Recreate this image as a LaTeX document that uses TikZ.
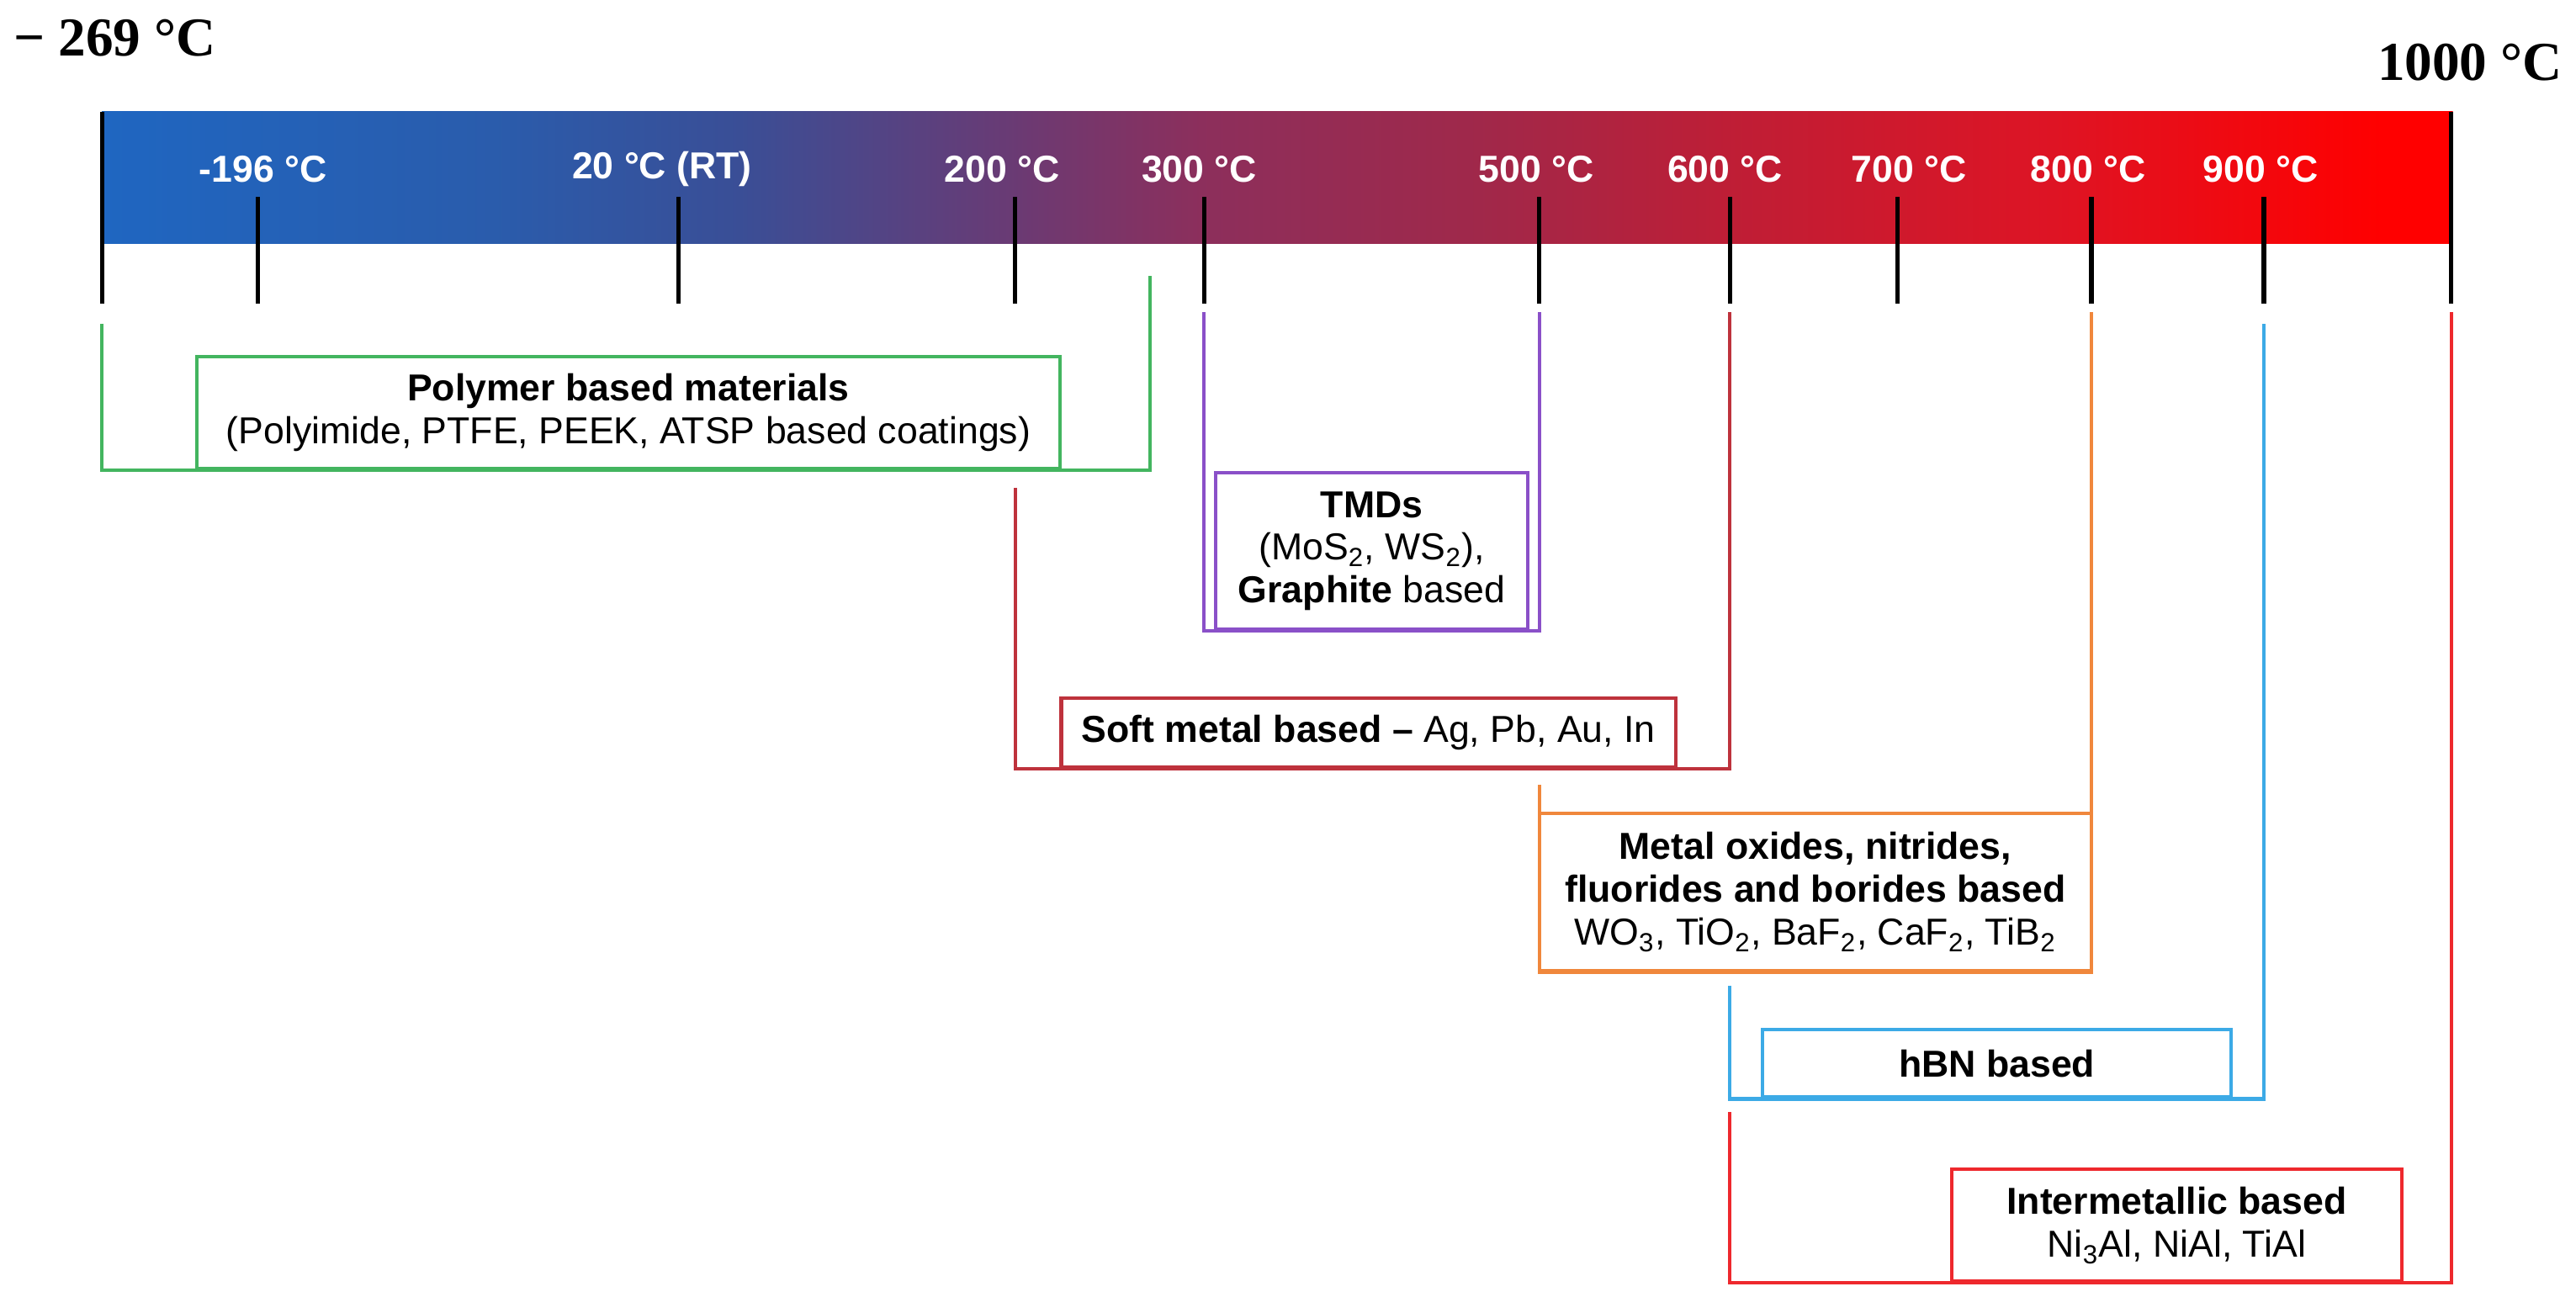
\documentclass[tikz,border=0pt]{standalone}
\usepackage{fontspec}
\setmainfont{Liberation Sans}
\newfontfamily\endfont{Liberation Serif}
\usetikzlibrary{positioning}

\definecolor{polygreen}{RGB}{67,181,95}
\definecolor{tmdpurple}{RGB}{138,80,200}
\definecolor{softred}{RGB}{190,50,60}
\definecolor{oxorange}{RGB}{240,135,60}
\definecolor{hbnblue}{RGB}{60,170,230}
\definecolor{interred}{RGB}{238,40,45}
\definecolor{barA}{HTML}{1F66C1}
\definecolor{barB}{HTML}{2A5CAC}
\definecolor{barC}{HTML}{3A4E96}
\definecolor{barD}{HTML}{6B3A73}
\definecolor{barE}{HTML}{8C2F5C}
\definecolor{barF}{HTML}{A0284A}
\definecolor{barG}{HTML}{BE1E36}
\definecolor{barH}{HTML}{DE1424}
\definecolor{barI}{HTML}{FF0000}

\tikzset{
  scalebar/.style={line width=1.5pt, black},
  ticklbl/.style={text=white, font=\fontsize{13}{15}\selectfont\bfseries},
  endlbl/.style={font=\endfont\fontsize{19}{22}\selectfont\bfseries},
  catbox/.style={draw, line width=1.2pt, fill=white, inner sep=0pt, align=center,
    font=\fontsize{13}{14.8}\selectfont},
  bracket/.style={line width=1.2pt},
}

\begin{document}
\begin{tikzpicture}[x=0.2mm, y=-0.2mm]
  \useasboundingbox (0,0) rectangle (1568,799);

  % colour bar
  \foreach \xa/\xb/\ca/\cb in {62/300/barA/barB, 300/450/barB/barC, 450/620/barC/barD,
      620/730/barD/barE, 730/900/barE/barF, 900/1050/barF/barG, 1050/1250/barG/barH,
      1250/1450/barH/barI, 1450/1492/barI/barI}
    \shade[left color=\ca, right color=\cb] (\xa,68) rectangle (\xb+1,148);

  \draw[scalebar] (62,68) -- (62,185) coordinate (tmin);
  \draw[scalebar] (1492,68) -- (1492,185) coordinate (tmax);
  \foreach \name/\x/\lx/\txt in {a/157/160/-196 °C, b/413/403/20 °C (RT), c/618/610/200 °C,
      d/733/730/300 °C, e/937/935/500 °C, f/1053/1050/600 °C, g/1155/1162/700 °C,
      h/1273/1271/800 °C, i/1378/1376/900 °C} {
    \draw[scalebar] (\x,120) -- (\x,185) coordinate (t\name);
    \node[ticklbl] (l\name) at (\lx,103) {\txt};
  }

  \node[endlbl, anchor=west] (lmin) at (2,23) {− 269 °C};
  \node[endlbl, anchor=east] (lmax) at (1566,38) {1000 °C};

  % bracket ends
  \coordinate (polyL) at (62,197);
  \coordinate (polyR) at (700,168);
  \coordinate (tmdL) at (733,190);
  \coordinate (tmdR) at (937,190);
  \coordinate (softL) at (618,297);
  \coordinate (softR) at (1053,190);
  \coordinate (oxL) at (937,478);
  \coordinate (oxR) at (1273,190);
  \coordinate (hbnL) at (1053,600);
  \coordinate (hbnR) at (1378,197);
  \coordinate (intL) at (1053,677);
  \coordinate (intR) at (1492,190);

  \node[catbox, draw=polygreen, minimum width=105mm, minimum height=13.6mm] (poly) at (382.5,251)
    {\textbf{Polymer based materials}\\(Polyimide, PTFE, PEEK, ATSP based coatings)};
  \node[catbox, draw=tmdpurple, minimum width=38mm, minimum height=19mm] (tmd) at (835,335.5)
    {\textbf{TMDs}\\(MoS\textsubscript{2}, WS\textsubscript{2}),\\\textbf{Graphite} based};
  \node[catbox, draw=softred, minimum width=74.8mm, minimum height=8.4mm] (soft) at (833,446)
    {\textbf{Soft metal based --} Ag, Pb, Au, In};
  \node[catbox, draw=oxorange, minimum width=67.2mm, minimum height=19.2mm] (oxide) at (1105,543)
    {\textbf{Metal oxides, nitrides,}\\\textbf{fluorides and borides based}\\
     WO\textsubscript{3}, TiO\textsubscript{2}, BaF\textsubscript{2}, CaF\textsubscript{2}, TiB\textsubscript{2}};
  \node[catbox, draw=hbnblue, minimum width=57mm, minimum height=8.2mm] (hbn) at (1215.5,647.5)
    {\textbf{hBN based}};
  \node[catbox, draw=interred, minimum width=54.8mm, minimum height=13.6mm] (inter) at (1325,746)
    {\textbf{Intermetallic based}\\Ni\textsubscript{3}Al, NiAl, TiAl};

  \draw[bracket, polygreen] (polyL) |- (poly.south) -| (polyR);
  \draw[bracket, tmdpurple] (tmdL) |- (tmd.south) -| (tmdR);
  \draw[bracket, softred] (softL) |- (soft.south) -| (softR);
  \draw[bracket, oxorange] (oxL) |- (oxide.south) -| (oxR);
  \draw[bracket, hbnblue] (hbnL) |- (hbn.south) -| (hbnR);
  \draw[bracket, interred] (intL) |- (inter.south) -| (intR);
\end{tikzpicture}
\end{document}
